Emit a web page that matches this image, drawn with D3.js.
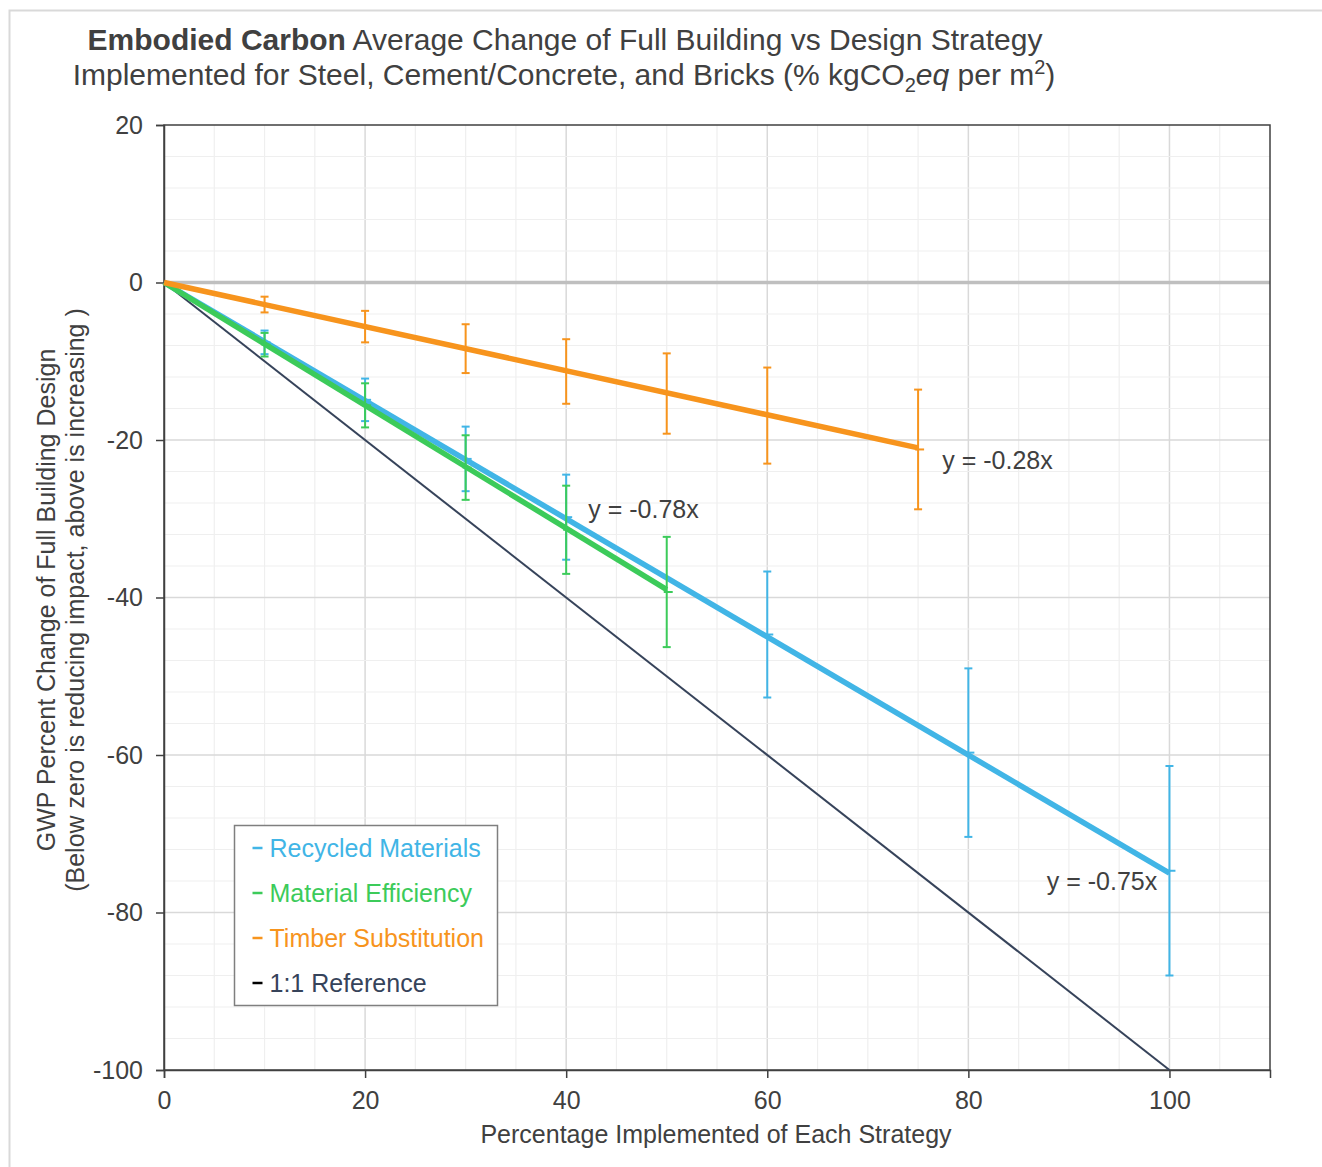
<!DOCTYPE html>
<html>
<head>
<meta charset="utf-8">
<script src="https://cdn.jsdelivr.net/npm/d3@7"></script>
<style>
  body { margin: 0; background: #fff; font-family: "Liberation Sans", Arial, sans-serif; }
  svg text { fill: #404040; }
</style>
</head>
<body>
<script>
// data
var recycledX = [10, 20, 30, 40, 60, 80, 100];
var recycledY = [-7.6, -14.9, -22.4, -29.8, -44.7, -59.7, -74.7];
var recycledErr = [1.5, 2.7, 4.1, 5.4, 8.0, 10.7, 13.3];

var efficiencyX = [10, 20, 30, 40, 50];
var efficiencyY = [-7.9, -15.6, -23.5, -31.4, -39.3];
var efficiencyErr = [1.5, 2.8, 4.1, 5.6, 7.0];

var timberX = [10, 20, 30, 40, 50, 60, 75];
var timberY = [-2.8, -5.6, -8.4, -11.3, -14.1, -16.9, -21.2];
var timberErr = [1.0, 2.0, 3.1, 4.1, 5.1, 6.1, 7.6];

var slopes = { recycled: -0.75, efficiency: -0.78, timber: -0.28 };
var referenceLine = [[0, 0], [100, -100]];

var xTicks = [0, 20, 40, 60, 80, 100];
var yTicks = [20, 0, -20, -40, -60, -80, -100];

var legendNames = ["Recycled Materials", "Material Efficiency", "Timber Substitution", "1:1 Reference"];

// equation labels: [text, x, y] in data units
var equations = [
  ["y = -0.28x", 77.4, -22.6],
  ["y = -0.78x", 42.2, -28.7],
  ["y = -0.75x", 87.8, -76.0]
];

var colors = { recycled: "#41b5e6", efficiency: "#3ccb5a", timber: "#f7941d", reference: "#36435a" };

var W = 1322, H = 1167;
var FS = "25px";
var svg = d3.select("body").append("svg").attr("width", W).attr("height", H);

// outer frame
svg.append("rect").attr("x", 9.5).attr("y", 10.5).attr("width", W).attr("height", H)
  .attr("fill", "none").attr("stroke", "#d9d9d9").attr("stroke-width", 2);

var x = d3.scaleLinear().domain([0, 110]).range([164, 1270]);
var y = d3.scaleLinear().domain([20, -100]).range([125, 1070]);

// grid
var g = svg.append("g");
g.selectAll(".vminor").data(d3.range(5, 110, 5)).enter().append("line")
  .attr("x1", d => x(d)).attr("x2", d => x(d)).attr("y1", y(20)).attr("y2", y(-100))
  .attr("stroke", d => d % 20 === 0 ? "#d9d9d9" : "#efefef").attr("stroke-width", d => d % 20 === 0 ? 1.5 : 1.2);
g.selectAll(".hminor").data(d3.range(-96, 20, 4)).enter().append("line")
  .attr("y1", d => y(d)).attr("y2", d => y(d)).attr("x1", x(0)).attr("x2", x(110))
  .attr("stroke", d => d % 20 === 0 ? "#d9d9d9" : "#efefef").attr("stroke-width", d => d % 20 === 0 ? 1.5 : 1.2);

// zero line
g.append("line").attr("x1", x(0)).attr("x2", x(110)).attr("y1", y(0)).attr("y2", y(0))
  .attr("stroke", "#bfbfbf").attr("stroke-width", 3.5);

// plot frame
svg.append("rect").attr("x", x(0)).attr("y", y(20)).attr("width", x(110) - x(0)).attr("height", y(-100) - y(20))
  .attr("fill", "none").attr("stroke", "#404040").attr("stroke-width", 1.5);

// axes
var yAxis = svg.append("g").attr("transform", "translate(" + x(0) + ",0)")
  .call(d3.axisLeft(y).tickValues(yTicks).tickSize(8).tickPadding(13));
var xAxis = svg.append("g").attr("transform", "translate(0," + y(-100) + ")")
  .call(d3.axisBottom(x).tickValues(xTicks).tickSize(8).tickPadding(13));
[yAxis, xAxis].forEach(function(a) {
  a.select(".domain").attr("stroke", "#404040").attr("stroke-width", 1.5);
  a.selectAll(".tick line").attr("stroke", "#404040").attr("stroke-width", 1.5);
  a.selectAll(".tick text").style("font-size", FS).style("font-family", "Liberation Sans, Arial, sans-serif").attr("fill", "#404040");
});
yAxis.selectAll(".tick text").text(d => d);

// 1:1 reference
svg.append("path").datum(referenceLine)
  .attr("fill", "none").attr("stroke", colors.reference).attr("stroke-width", 2)
  .attr("d", d3.line().x(d => x(d[0])).y(d => y(d[1])));

function drawSeries(xs, ys, errs, slope, color) {
  var s = svg.append("g");
  var pts = xs.map((v, i) => ({ x: v, y: ys[i], e: errs[i] }));
  // trendline
  s.append("path").datum([0, d3.max(xs)])
    .attr("fill", "none").attr("stroke", color).attr("stroke-width", 5.5)
    .attr("d", d3.line().x(d => x(d)).y(d => y(slope * d)));
  // error bars
  s.selectAll(".eb").data(pts).enter().append("line")
    .attr("x1", d => x(d.x)).attr("x2", d => x(d.x))
    .attr("y1", d => y(d.y + d.e)).attr("y2", d => y(d.y - d.e))
    .attr("stroke", color).attr("stroke-width", 2);
  s.selectAll(".capTop").data(pts).enter().append("line")
    .attr("x1", d => x(d.x) - 4).attr("x2", d => x(d.x) + 4)
    .attr("y1", d => y(d.y + d.e)).attr("y2", d => y(d.y + d.e))
    .attr("stroke", color).attr("stroke-width", 2);
  s.selectAll(".capBot").data(pts).enter().append("line")
    .attr("x1", d => x(d.x) - 4).attr("x2", d => x(d.x) + 4)
    .attr("y1", d => y(d.y - d.e)).attr("y2", d => y(d.y - d.e))
    .attr("stroke", color).attr("stroke-width", 2);
  // point markers (short dashes)
  s.selectAll(".pt").data(pts).enter().append("line")
    .attr("x1", d => x(d.x) - 3).attr("x2", d => x(d.x) + 6)
    .attr("y1", d => y(d.y)).attr("y2", d => y(d.y))
    .attr("stroke", color).attr("stroke-width", 2);
}

drawSeries(recycledX, recycledY, recycledErr, slopes.recycled, colors.recycled);
drawSeries(efficiencyX, efficiencyY, efficiencyErr, slopes.efficiency, colors.efficiency);
drawSeries(timberX, timberY, timberErr, slopes.timber, colors.timber);

// equation labels
svg.selectAll(".eq").data(equations).enter().append("text")
  .attr("x", d => x(d[1])).attr("y", d => y(d[2]))
  .attr("dominant-baseline", "central")
  .style("font-size", FS).text(d => d[0]);

// legend
var leg = svg.append("g").attr("transform", "translate(234.5,825.5)");
leg.append("rect").attr("width", 263).attr("height", 180)
  .attr("fill", "#fff").attr("stroke", "#7f7f7f").attr("stroke-width", 1.5);
var legColors = [colors.recycled, colors.efficiency, colors.timber, colors.reference];
legendNames.forEach(function(name, i) {
  var cy = 22.5 + i * 45;
  leg.append("line").attr("x1", 18).attr("x2", 28).attr("y1", cy).attr("y2", cy)
    .attr("stroke", i === 3 ? "#000" : legColors[i]).attr("stroke-width", 2.5);
  leg.append("text").attr("x", 35).attr("y", cy).attr("dominant-baseline", "central")
    .style("font-size", FS).style("fill", legColors[i]).text(name);
});

// axis titles
svg.append("text").attr("x", 716).attr("y", 1134).attr("text-anchor", "middle")
  .attr("dominant-baseline", "central").style("font-size", FS)
  .text("Percentage Implemented of Each Strategy");

var yl = svg.append("g").attr("transform", "translate(0,600) rotate(-90)");
yl.append("text").attr("x", 0).attr("y", 46).attr("text-anchor", "middle").attr("dominant-baseline", "central")
  .style("font-size", FS).text("GWP Percent Change of Full Building Design");
yl.append("text").attr("x", 0).attr("y", 75).attr("text-anchor", "middle").attr("dominant-baseline", "central")
  .style("font-size", FS).text("(Below zero is reducing impact, above is increasing )");

// title
var t1 = svg.append("text").attr("x", 565).attr("y", 50).attr("text-anchor", "middle").style("font-size", "30px");
t1.append("tspan").style("font-weight", "bold").text("Embodied Carbon");
t1.append("tspan").text(" Average Change of Full Building vs Design Strategy");
var t2 = svg.append("text").attr("x", 564).attr("y", 85).attr("text-anchor", "middle").style("font-size", "30px");
t2.append("tspan").text("Implemented for Steel, Cement/Concrete, and Bricks (% kgCO");
t2.append("tspan").attr("dy", 7).style("font-size", "20px").text("2");
t2.append("tspan").attr("dy", -7).style("font-style", "italic").text("eq");
t2.append("tspan").text(" per m");
t2.append("tspan").attr("dy", -11).style("font-size", "20px").text("2");
t2.append("tspan").attr("dy", 11).text(")");
</script>
</body>
</html>
